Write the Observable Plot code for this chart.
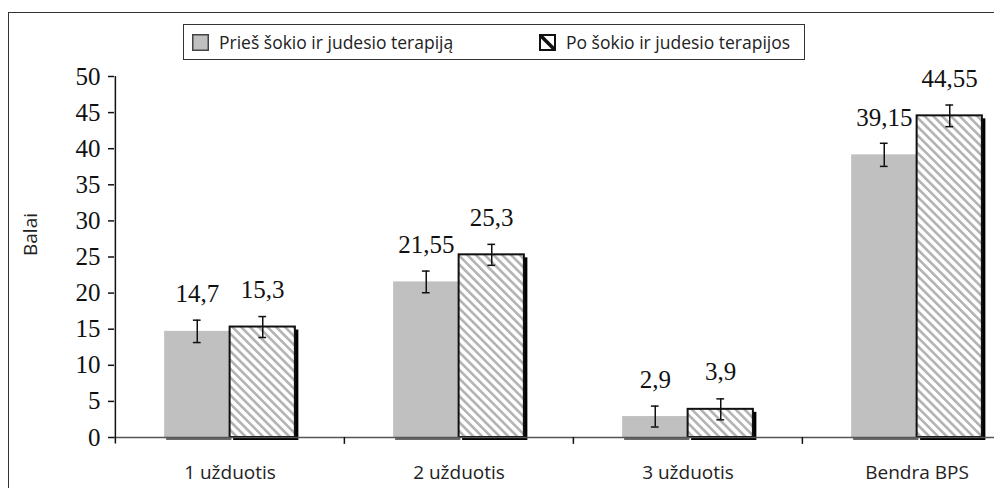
<!DOCTYPE html>
<html>
<head>
<meta charset="utf-8">
<script src="https://cdn.jsdelivr.net/npm/d3@7"></script>
<script src="https://cdn.jsdelivr.net/npm/@observablehq/plot@0.6"></script>
<style>
  html, body { margin: 0; padding: 0; background: #fff; overflow: hidden; }
  #wrap { position: relative; width: 994px; height: 488px; overflow: hidden; background: #fff; }
  #frame { position: absolute; left: 8px; top: 12px; width: 1200px; height: 800px;
           border-left: 1.5px solid #333; border-top: 1.5px solid #333; }
  #chart { position: absolute; left: 0; top: 0; width: 1045px; }
  #chart svg { max-width: none !important; }
  #legend { position: absolute; left: 183px; top: 24px; width: 620px; height: 34px;
            border: 1px solid #333; background: #fff; font-family: "Open Sans", sans-serif;
            font-size: 17.5px; color: #222; }
  .item { position: absolute; top: 0; height: 34px; display: flex; align-items: center; }
  .item svg { margin-right: 10px; }
</style>
</head>
<body>
<div id="wrap">
  <div id="frame"></div>
  <div id="chart"></div>
  <div id="legend"></div>
</div>
<script>
const categories = ["1 užduotis", "2 užduotis", "3 užduotis", "Bendra BPS"];
const seriesNames = ["Prieš šokio ir judesio terapiją", "Po šokio ir judesio terapijos"];
const before = [14.7, 21.55, 2.9, 39.15];
const after = [15.3, 25.3, 3.9, 44.55];
const beforeErr = [1.55, 1.5, 1.45, 1.6];
const afterErr = [1.45, 1.45, 1.45, 1.5];
const yTicks = [0, 5, 10, 15, 20, 25, 30, 35, 40, 45, 50];
const yLabel = "Balai";
const labelText = v => String(v).replace(".", ",");

const rowsBefore = categories.map((c, i) => ({cat: c, value: before[i], err: beforeErr[i]}));
const rowsAfter = categories.map((c, i) => ({cat: c, value: after[i], err: afterErr[i]}));

const W = 1045, ML = 114, MR = 14;
const bw = (W - ML - MR) / categories.length;   // band width
const barW = bw * 0.2857;                        // each bar width
const outer = (bw - 2 * barW) / 2;
const off = barW / 2;                            // center offset of each bar from band center
const preIns = {insetLeft: outer, insetRight: bw - outer - barW};
const postIns = {insetLeft: outer + barW, insetRight: outer};
const capHalf = 4;
const capIns = {insetLeft: bw / 2 - capHalf, insetRight: bw / 2 - capHalf};
const serif = "'Liberation Serif', 'Times New Roman', serif";
const sans = "'Open Sans', sans-serif";

const plot = Plot.plot({
  width: W,
  height: 488,
  marginLeft: ML,
  marginRight: MR,
  marginTop: 76,
  marginBottom: 51,
  style: {background: "transparent", overflow: "visible", maxWidth: "none"},
  x: {domain: categories, padding: 0, label: null},
  y: {domain: [0, 50], label: null},
  marks: [
    // shadows
    Plot.barY(rowsBefore, {x: "cat", y: "value", fill: "#6a6a6a", ...preIns, dx: 2, dy: 3}),
    Plot.barY(rowsAfter, {x: "cat", y: "value", fill: "#000", ...postIns, dx: 3.5, dy: 3}),
    // bars
    Plot.barY(rowsBefore, {x: "cat", y: "value", fill: "#c0c0c0", ...preIns}),
    Plot.barY(rowsAfter, {x: "cat", y: "value", fill: "url(#hatch)", stroke: "#111", strokeWidth: 2, ...postIns}),
    // x axis line
    Plot.ruleY([0], {stroke: "#555", strokeWidth: 1.5}),
    // y axis line (at left edge of first band)
    Plot.ruleX([categories[0]], {x: d => d, dx: -bw / 2, y1: -0.9, y2: 50, stroke: "#111", strokeWidth: 1.5}),
    // category boundary ticks
    Plot.ruleX(categories.slice(1), {x: d => d, dx: -bw / 2, y1: -0.95, y2: 0, stroke: "#111", strokeWidth: 1.5}),
    // error bars
    Plot.ruleX(rowsBefore, {x: "cat", dx: -off, y1: d => d.value - d.err, y2: d => d.value + d.err, stroke: "#111", strokeWidth: 1.5}),
    Plot.ruleX(rowsAfter, {x: "cat", dx: off, y1: d => d.value - d.err, y2: d => d.value + d.err, stroke: "#111", strokeWidth: 1.5}),
    Plot.tickY(rowsBefore, {x: "cat", y: d => d.value + d.err, dx: -off, ...capIns, stroke: "#111", strokeWidth: 1.5}),
    Plot.tickY(rowsBefore, {x: "cat", y: d => d.value - d.err, dx: -off, ...capIns, stroke: "#111", strokeWidth: 1.5}),
    Plot.tickY(rowsAfter, {x: "cat", y: d => d.value + d.err, dx: off, ...capIns, stroke: "#111", strokeWidth: 1.5}),
    Plot.tickY(rowsAfter, {x: "cat", y: d => d.value - d.err, dx: off, ...capIns, stroke: "#111", strokeWidth: 1.5}),
    // value labels
    Plot.text(rowsBefore, {x: "cat", y: "value", text: d => labelText(d.value), dx: -off, dy: -37,
      fontFamily: serif, fontSize: 25, fill: "#111", lineAnchor: "middle"}),
    Plot.text(rowsAfter, {x: "cat", y: "value", text: d => labelText(d.value), dx: off, dy: -37,
      fontFamily: serif, fontSize: 25, fill: "#111", lineAnchor: "middle"}),
    // axes
    Plot.axisY({ticks: yTicks, tickSize: 6, tickPadding: 8, fontFamily: serif, fontSize: 25,
      stroke: "#111", strokeWidth: 1.5, color: "#111", label: null}),
    Plot.axisX({tickSize: 0, tickPadding: 28, fontFamily: sans, fontSize: 19, color: "#222", label: null}),
    // y label
    Plot.text([yLabel], {frameAnchor: "left", dx: -84, dy: -1, rotate: -90, text: d => d,
      fontFamily: sans, fontSize: 19, fill: "#222"})
  ]
});

// hatch pattern
const ns = "http://www.w3.org/2000/svg";
const defs = document.createElementNS(ns, "defs");
defs.innerHTML = `
  <pattern id="hatch" patternUnits="userSpaceOnUse" width="6.2" height="6.2" patternTransform="rotate(-45)">
    <rect width="6.2" height="6.2" fill="#fff"/>
    <rect x="0" y="0" width="2.6" height="6.2" fill="#b3b3b3"/>
  </pattern>`;
plot.insertBefore(defs, plot.firstChild);
document.getElementById("chart").appendChild(plot);

// legend
const legend = document.getElementById("legend");
const items = [
  {left: 8, swatch: `<svg width="17" height="17"><rect x="0.75" y="0.75" width="15.5" height="15.5" fill="#c0c0c0" stroke="#444" stroke-width="1.5"/></svg>`},
  {left: 355, swatch: `<svg width="17" height="17"><rect x="1" y="1" width="15" height="15" fill="#fff" stroke="#111" stroke-width="2"/><line x1="2" y1="2" x2="15" y2="15" stroke="#111" stroke-width="3.5"/></svg>`}
];
seriesNames.forEach((name, i) => {
  const el = document.createElement("div");
  el.className = "item";
  el.style.left = items[i].left + "px";
  el.innerHTML = items[i].swatch + `<span>${name}</span>`;
  legend.appendChild(el);
});
</script>
</body>
</html>
